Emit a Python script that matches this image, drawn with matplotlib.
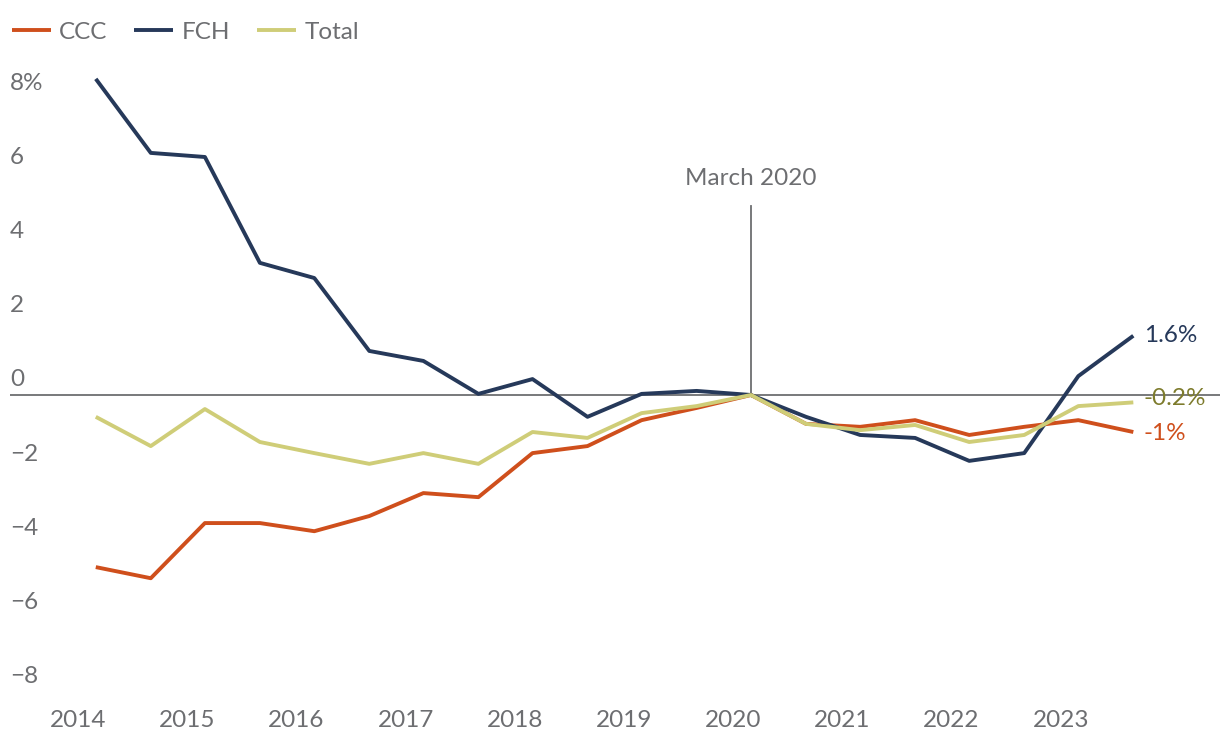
import matplotlib
matplotlib.use("Agg")
import matplotlib.pyplot as plt
import matplotlib.dates as mdates
import matplotlib.transforms as mtransforms
import pandas as pd

plt.rcParams['font.family'] = ['Lato', 'DejaVu Sans']

# survey dates (March and September of each year)
dates = ["2014-03", "2014-09", "2015-03", "2015-09", "2016-03", "2016-09",
         "2017-03", "2017-09", "2018-03", "2018-09", "2019-03", "2019-09",
         "2020-03", "2020-09", "2021-03", "2021-09", "2022-03", "2022-09",
         "2023-03", "2023-09"]

ccc = [-4.65, -4.95, -3.46, -3.46, -3.68, -3.27, -2.65, -2.76, -1.57, -1.38,
       -0.68, -0.35, 0.0, -0.78, -0.86, -0.68, -1.08, -0.86, -0.68, -1.0]
fch = [8.54, 6.54, 6.43, 3.57, 3.16, 1.19, 0.92, 0.03, 0.43, -0.59,
       0.03, 0.11, 0.0, -0.59, -1.08, -1.16, -1.78, -1.57, 0.51, 1.6]
total = [-0.59, -1.38, -0.38, -1.27, -1.57, -1.86, -1.57, -1.86, -1.0, -1.16,
         -0.49, -0.30, 0.0, -0.78, -0.95, -0.81, -1.27, -1.08, -0.30, -0.2]

end_labels = {"CCC": "-1%", "FCH": "1.6%", "Total": "-0.2%"}
xtick_years = ["2014", "2015", "2016", "2017", "2018", "2019", "2020", "2021", "2022", "2023"]
yticks = [-8, -6, -4, -2, 0, 2, 4, 6, 8]
ytick_labels = ["\u22128", "\u22126", "\u22124", "\u22122", "0", "2", "4", "6", "8%"]

c_ccc = "#cf4f1c"
c_fch = "#26395a"
c_tot = "#cfcd78"
c_tot_txt = "#7d7b2c"
grey = "#6d6e71"

x = pd.to_datetime(dates)

fig = plt.figure(figsize=(12.2, 7.42), dpi=100)
ax = fig.add_axes([10 / 1220, 1 - 700 / 742, 1 - 10 / 1220, 640 / 742])

lw = 2.8
ax.plot(x, ccc, color=c_ccc, lw=lw, label="CCC", solid_capstyle="butt")
ax.plot(x, fch, color=c_fch, lw=lw, label="FCH", solid_capstyle="butt")
ax.plot(x, total, color=c_tot, lw=lw, label="Total", solid_capstyle="butt")
ax.axhline(0, color=grey, lw=1.3, zorder=1)

# March 2020 marker
march = x[12]
ax.plot([march, march], [0, 5.1], color=grey, lw=1.3, zorder=1)
ax.text(march, 5.85, "March 2020", ha="center", va="center", fontsize=17.5, color=grey)

# end labels
off = pd.Timedelta(days=35)
ax.text(x[-1] + off, fch[-1], end_labels["FCH"], color=c_fch, fontsize=17.5, va="center", ha="left")
ax.text(x[-1] + off, total[-1] + 0.1, end_labels["Total"], color=c_tot_txt, fontsize=17.5, va="center", ha="left")
ax.text(x[-1] + off, ccc[-1] - 0.05, end_labels["CCC"], color=c_ccc, fontsize=17.5, va="center", ha="left")

ax.set_xlim(pd.Timestamp("2013-05-18"), pd.Timestamp("2024-06-17"))
ax.set_ylim(-8.24, 9.05)

ax.set_xticks(pd.to_datetime(xtick_years))
ax.xaxis.set_major_formatter(mdates.DateFormatter("%Y"))
ax.set_yticks(yticks)
ax.set_yticklabels(ytick_labels)

ax.tick_params(axis="both", length=0, labelsize=17.5, labelcolor=grey)
ax.tick_params(axis="x", pad=7)
ax.tick_params(axis="y", pad=0)
shift = mtransforms.ScaledTranslation(0, 17 / 100, fig.dpi_scale_trans)
for lab in ax.get_yticklabels():
    lab.set_horizontalalignment("left")
    lab.set_transform(lab.get_transform() + shift)

for s in ax.spines.values():
    s.set_visible(False)

fig.legend(loc="upper left", bbox_to_anchor=(2 / 1220, 1 - 12 / 742), ncol=3, frameon=False,
           fontsize=17.5, labelcolor=grey, handlelength=1.6, handletextpad=0.35,
           columnspacing=1.1, borderaxespad=0)

fig.savefig("out.png", dpi=100)
